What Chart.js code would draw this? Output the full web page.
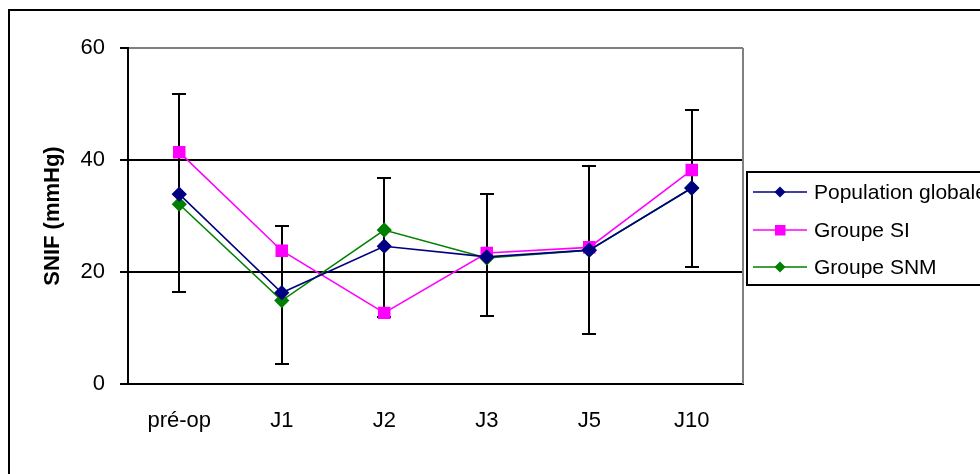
<!DOCTYPE html>
<html>
<head>
<meta charset="utf-8">
<script src="https://cdn.jsdelivr.net/npm/chart.js@4"></script>
<style>
  html, body { margin: 0; padding: 0; background: #fff; }
  #wrap { width: 980px; height: 474px; }
</style>
</head>
<body>
<div id="wrap"><canvas id="chartSnif" width="980" height="474"></canvas></div>
<script>
var labels = ['pré-op', 'J1', 'J2', 'J3', 'J5', 'J10'];
var population = [33.9, 16.3, 24.6, 22.7, 23.9, 35.0];
var groupeSI = [41.4, 23.8, 12.7, 23.4, 24.4, 38.2];
var groupeSNM = [32.1, 14.9, 27.5, 22.5, 23.9, 35.0];
var errHigh = [51.7, 28.2, 36.8, 33.9, 38.9, 48.9];
var errLow = [16.4, 3.5, 12.0, 12.1, 8.9, 20.9];
var yTicks = [0, 20, 40, 60];

var fontFamily = '"Liberation Sans", Arial, sans-serif';

// error bars, outer frame, plot border and legend box
var extras = {
    id: 'extras',
    beforeDatasetsDraw: function (chart) {
        var ctx = chart.ctx;
        var x = chart.scales.x, y = chart.scales.y;
        ctx.save();
        ctx.strokeStyle = '#000';
        ctx.lineWidth = 2;
        for (var i = 0; i < labels.length; i++) {
            var px = Math.round(x.getPixelForValue(i));
            var top = Math.round(y.getPixelForValue(errHigh[i]));
            var bot = Math.round(y.getPixelForValue(errLow[i]));
            ctx.beginPath();
            ctx.moveTo(px, top); ctx.lineTo(px, bot);
            ctx.moveTo(px - 7, top); ctx.lineTo(px + 7, top);
            ctx.moveTo(px - 7, bot); ctx.lineTo(px + 7, bot);
            ctx.stroke();
        }
        ctx.restore();
    },
    afterDraw: function (chart) {
        var ctx = chart.ctx;
        var a = chart.chartArea;
        ctx.save();
        // plot right border (grey)
        ctx.strokeStyle = '#808080';
        ctx.lineWidth = 2;
        ctx.beginPath();
        ctx.moveTo(a.right, a.top);
        ctx.lineTo(a.right, a.bottom);
        ctx.stroke();
        // outer frame
        ctx.strokeStyle = '#000';
        ctx.lineWidth = 2;
        ctx.strokeRect(9, 10, 1000, 1000);
        // legend
        ctx.strokeRect(747, 172, 300, 113);
        var rows = [192, 230, 267];
        ctx.font = '21px ' + fontFamily;
        ctx.textBaseline = 'middle';
        ctx.textAlign = 'left';
        chart.data.datasets.forEach(function (ds, i) {
            var ry = rows[i];
            ctx.strokeStyle = ds.borderColor;
            ctx.lineWidth = 1.5;
            ctx.beginPath();
            ctx.moveTo(753, ry); ctx.lineTo(807, ry);
            ctx.stroke();
            ctx.fillStyle = ds.backgroundColor;
            ctx.beginPath();
            if (ds.pointStyle === 'rect') {
                ctx.rect(775, ry - 5, 10.5, 10.5);
            } else {
                ctx.moveTo(780, ry - 5.5); ctx.lineTo(785.5, ry);
                ctx.lineTo(780, ry + 5.5); ctx.lineTo(774.5, ry);
                ctx.closePath();
            }
            ctx.fill();
            ctx.fillStyle = '#000';
            ctx.fillText(ds.label, 814, ry + 1);
        });
        ctx.restore();
    }
};

var ctx = document.getElementById('chartSnif').getContext('2d');
var myChart = new Chart(ctx, {
    type: 'line',
    data: {
        labels: labels,
        datasets: [{
            label: 'Population globale',
            data: population,
            borderColor: '#000080',
            backgroundColor: '#000080',
            pointStyle: 'rectRot',
            pointRadius: 6.5,
            borderWidth: 1.6
        }, {
            label: 'Groupe SI',
            data: groupeSI,
            borderColor: '#FF00FF',
            backgroundColor: '#FF00FF',
            pointStyle: 'rect',
            pointRadius: 7.7,
            borderWidth: 1.6
        }, {
            label: 'Groupe SNM',
            data: groupeSNM,
            borderColor: '#008000',
            backgroundColor: '#008000',
            pointStyle: 'rectRot',
            pointRadius: 6.5,
            borderWidth: 1.6
        }]
    },
    plugins: [extras],
    options: {
        responsive: false,
        animation: false,
        events: [],
        layout: {
            padding: { left: 0, right: 237, top: 48, bottom: 0 }
        },
        elements: {
            line: { tension: 0 },
            point: { borderWidth: 0, hoverRadius: 6 }
        },
        plugins: {
            legend: { display: false },
            title: { display: false },
            tooltip: { enabled: false }
        },
        scales: {
            x: {
                type: 'category',
                offset: true,
                grid: { display: false, drawTicks: false },
                border: { display: true, color: '#000', width: 2 },
                ticks: {
                    color: '#000',
                    padding: 24,
                    maxRotation: 0,
                    font: { family: fontFamily, size: 22 }
                },
                afterFit: function (scale) { scale.height = 90; }
            },
            y: {
                min: 0,
                max: 60,
                afterBuildTicks: function (scale) {
                    scale.ticks = yTicks.map(function (v) { return { value: v }; });
                },
                grid: {
                    color: function (c) { return c.tick && c.tick.value === 60 ? '#808080' : '#000'; },
                    tickColor: '#000',
                    lineWidth: 2,
                    drawTicks: true,
                    tickLength: 8
                },
                border: { display: true, color: '#000', width: 2 },
                ticks: {
                    color: '#000',
                    padding: 15,
                    font: { family: fontFamily, size: 22 }
                },
                title: {
                    display: true,
                    text: 'SNIF (mmHg)',
                    color: '#000',
                    padding: { top: 40, bottom: 0 },
                    font: { family: fontFamily, size: 22, weight: 'bold' }
                },
                afterFit: function (scale) { scale.width = 128; }
            }
        }
    }
});
</script>
</body>
</html>
